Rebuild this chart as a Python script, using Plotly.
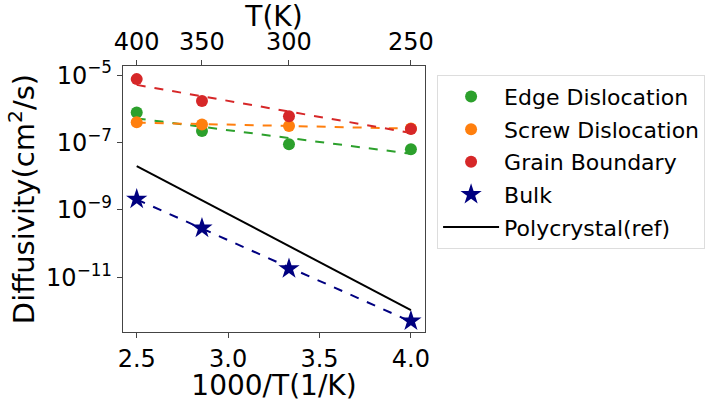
import numpy as np
import plotly.graph_objects as go

# Inverse temperature (1000/T, 1/K) and the matching temperatures (K)
inv_T = [2.5, 2.857, 3.333, 4.0]
temps_K = [400, 350, 300, 250]

# Diffusivity (cm^2/s) per defect type
edge = [7.8e-7, 2.2e-7, 8.9e-8, 6.3e-8]
screw = [4.0e-7, 3.4e-7, 3.1e-7, 2.6e-7]
grain = [7.6e-6, 1.7e-6, 6.0e-7, 2.5e-7]
bulk = [2.1e-9, 2.9e-10, 1.8e-11, 5.1e-13]

# Reference polycrystal line (endpoints)
poly_x = [2.5, 4.0]
poly_y = [2.0e-8, 1.07e-12]

y_tickvals = [1e-5, 1e-7, 1e-9, 1e-11]
y_ticktext = ["10<sup>\u22125</sup>", "10<sup>\u22127</sup>",
              "10<sup>\u22129</sup>", "10<sup>\u221211</sup>"]

FONT = "DejaVu Sans"
fig = go.Figure()


def arrhenius_fit(x, y):
    """Least-squares line in log10(D) vs 1000/T."""
    k, b = np.polyfit(np.array(x), np.log10(np.array(y)), 1)
    xs = np.array([min(x), max(x)])
    return xs, 10 ** (k * xs + b)


series = [
    ("Edge Dislocation", edge, "#2ca02c", "circle", 12),
    ("Screw Dislocation", screw, "#ff7f0e", "circle", 12),
    ("Grain Boundary", grain, "#d62728", "circle", 12),
    ("Bulk", bulk, "#000080", "star", 16),
]

for name, vals, color, sym, size in series:
    fx, fy = arrhenius_fit(inv_T, vals)
    fig.add_trace(go.Scatter(
        x=fx, y=fy, mode="lines", showlegend=False,
        line=dict(color=color, width=2, dash="dash"), hoverinfo="skip"))

for name, vals, color, sym, size in series:
    fig.add_trace(go.Scatter(
        x=inv_T, y=vals, mode="markers", name=name, legendgroup=name,
        marker=dict(color=color, symbol=sym, size=size, line=dict(width=0))))

fig.add_trace(go.Scatter(
    x=poly_x, y=poly_y, mode="lines", name="Polycrystal(ref)",
    legendgroup="poly", line=dict(color="black", width=2)))

# invisible trace carrying the top temperature axis
fig.add_trace(go.Scatter(x=inv_T, y=bulk, xaxis="x2", mode="markers",
                         marker=dict(opacity=0), showlegend=False,
                         hoverinfo="skip"))

x_range = [2.425, 4.077]
axis_common = dict(showgrid=False, zeroline=False, showline=True,
                   linecolor="#444", linewidth=1.3, ticks="outside",
                   ticklen=5, tickcolor="#444")
x_tickfont = dict(family=FONT, size=24, color="black")
title_font = dict(family=FONT, size=28)

fig.update_layout(
    width=707, height=402,
    margin=dict(l=123, r=282, t=66, b=70, autoexpand=False),
    paper_bgcolor="white", plot_bgcolor="white",
    font=dict(family=FONT, color="black"),
    xaxis=dict(range=x_range, tickvals=[2.5, 3.0, 3.5, 4.0],
               ticktext=["2.5", "3.0", "3.5", "4.0"], mirror=False,
               tickfont=x_tickfont,
               title=dict(text="1000/T(1/K)", standoff=2, font=title_font),
               **axis_common),
    xaxis2=dict(range=x_range, overlaying="x", side="top", anchor="y",
                tickvals=inv_T, ticktext=[str(t) for t in temps_K],
                tickfont=x_tickfont,
                title=dict(text="T(K)", standoff=1, font=title_font),
                **axis_common),
    yaxis=dict(type="log", range=[-12.62, -4.73], tickvals=y_tickvals,
               ticktext=y_ticktext, mirror=True,
               tickfont=dict(family=FONT, size=24, color="black"),
               title=dict(text="Diffusivity(cm<sup>2</sup>/s)", standoff=2,
                          font=dict(family=FONT, size=29)),
               **axis_common),
    legend=dict(x=1.04, y=0.967, xanchor="left", yanchor="top",
                bgcolor="white", bordercolor="#ddd", borderwidth=1,
                font=dict(family=FONT, size=22), tracegroupgap=1,
                itemwidth=56, itemsizing="trace"),
)

fig.write_html("out.html")
